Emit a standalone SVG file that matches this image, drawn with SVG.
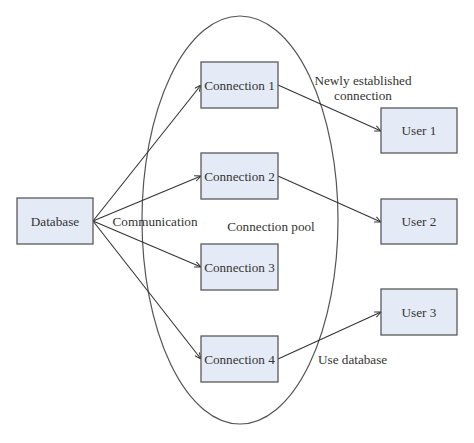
<svg xmlns="http://www.w3.org/2000/svg" width="474" height="443" viewBox="0 0 474 443">
<style>
.box{fill:#e5ebf6;stroke:#5a5a5a;stroke-width:1.3}
.t{font-family:"Liberation Serif",serif;font-size:13.2px;fill:#333;text-anchor:middle;dominant-baseline:central}
.c{stroke:#333;stroke-width:1.1;fill:none;marker-end:url(#a)}
</style>
<defs>
<marker id="a" viewBox="0 0 10 10" refX="10" refY="5" markerWidth="7" markerHeight="7" orient="auto" markerUnits="userSpaceOnUse">
<path d="M1,1 L10,5 L1,9" fill="none" stroke="#333" stroke-width="1.4"/>
</marker>
</defs>
<rect width="474" height="443" fill="#fff"/>
<ellipse id="pool" cx="240" cy="220" rx="98" ry="204" fill="none" stroke="#555" stroke-width="1.2"/>
<g id="connectors">
<line class="c" x1="93" y1="221" x2="201" y2="85"/>
<line class="c" x1="93" y1="221" x2="201" y2="176"/>
<line class="c" x1="93" y1="221" x2="201" y2="267"/>
<line class="c" x1="93" y1="221" x2="201" y2="359"/>
<line class="c" x1="278" y1="85" x2="381" y2="131"/>
<line class="c" x1="278" y1="176" x2="381" y2="222"/>
<line class="c" x1="278" y1="359" x2="381" y2="312"/>
</g>
<g id="database"><rect class="box" x="17" y="198" width="76" height="46"/><text class="t" x="55" y="221">Database</text></g>
<g id="conn1"><rect class="box" x="201" y="62" width="77" height="46"/><text class="t" x="239.500" y="85">Connection 1</text></g>
<g id="conn2"><rect class="box" x="201" y="153" width="77" height="46"/><text class="t" x="239.500" y="176">Connection 2</text></g>
<g id="conn3"><rect class="box" x="201" y="244" width="77" height="46"/><text class="t" x="239.500" y="267">Connection 3</text></g>
<g id="conn4"><rect class="box" x="201" y="336" width="77" height="46"/><text class="t" x="239.500" y="359">Connection 4</text></g>
<g id="user1"><rect class="box" x="381" y="108" width="76" height="45"/><text class="t" x="419" y="130.500">User 1</text></g>
<g id="user2"><rect class="box" x="381" y="199" width="76" height="45"/><text class="t" x="419" y="221.500">User 2</text></g>
<g id="user3"><rect class="box" x="381" y="289" width="76" height="46"/><text class="t" x="419" y="312">User 3</text></g>
<g id="labels">
<text class="t" x="155" y="221">Communication</text>
<text class="t" x="271" y="226">Connection pool</text>
<text class="t" x="363" y="80">Newly established</text>
<text class="t" x="363" y="95">connection</text>
<text class="t" x="318" y="359" style="text-anchor:start">Use database</text>
</g>
</svg>
